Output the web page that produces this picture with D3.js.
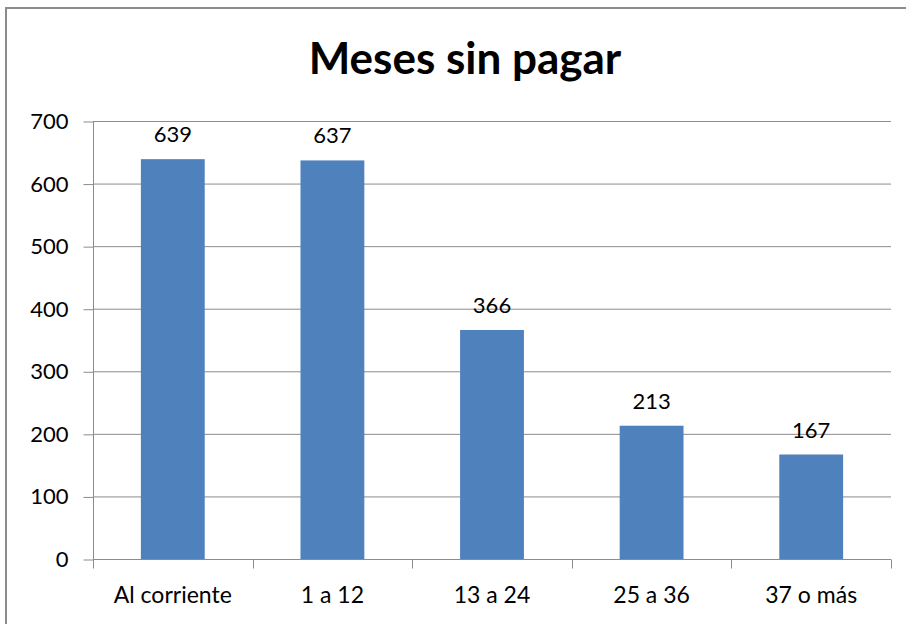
<!DOCTYPE html>
<html lang="es">
<head>
    <meta charset="UTF-8">
    <title>Meses sin pagar</title>
    <script src="https://d3js.org/d3.v7.min.js"></script>
    <style>
        body { margin: 0; background: #fff; }
        svg text { font-family: Lato, "Noto Sans", sans-serif; fill: #000; }
    </style>
</head>
<body>
    <div class="chart"></div>

    <script>
        const categories = ['Al corriente', '1 a 12', '13 a 24', '25 a 36', '37 o más'];
        const values = [639, 637, 366, 213, 167];
        const yTicks = [0, 100, 200, 300, 400, 500, 600, 700];

        const svgWidth = 906;
        const svgHeight = 624;
        const plot = { left: 93, right: 891, top: 121, bottom: 559 };

        const svg = d3.select('.chart')
            .append('svg')
            .attr('width', svgWidth)
            .attr('height', svgHeight);

        // outer chart frame (runs off the right and bottom edges)
        svg.append('rect')
            .attr('x', 6).attr('y', 8)
            .attr('width', 920).attr('height', 640)
            .attr('fill', 'none')
            .attr('stroke', '#8c8c8c')
            .attr('stroke-width', 2);

        svg.append('text')
            .attr('x', 465).attr('y', 74)
            .attr('text-anchor', 'middle')
            .style('font-size', '44px')
            .style('font-weight', 'bold')
            .text('Meses sin pagar');

        const x = d3.scaleBand()
            .domain(categories)
            .range([plot.left, plot.right])
            .paddingInner(0.6)
            .paddingOuter(0.3);

        const y = d3.scaleLinear()
            .domain([0, 700])
            .range([plot.bottom, plot.top]);

        // gridlines
        svg.append('g')
            .selectAll('line')
            .data(yTicks.slice(1))
            .enter()
            .append('line')
            .attr('x1', plot.left).attr('x2', plot.right)
            .attr('y1', d => y(d) + 0.5).attr('y2', d => y(d) + 0.5)
            .attr('stroke', '#8c8c8c');

        // y axis
        const yAxis = svg.append('g')
            .attr('transform', `translate(${plot.left + 0.5},0.5)`)
            .call(d3.axisLeft(y).tickValues(yTicks).tickSize(10).tickPadding(15));
        yAxis.select('.domain').attr('stroke', '#8c8c8c').attr('d', `M0,${plot.top}V${plot.bottom}`);
        yAxis.selectAll('.tick line').attr('stroke', '#8c8c8c');
        yAxis.selectAll('.tick text').style('font-size', '22px').attr('fill', '#000');

        // x axis with ticks on category boundaries
        const xAxis = svg.append('g')
            .attr('transform', `translate(0,${plot.bottom + 0.5})`);
        xAxis.append('line')
            .attr('x1', plot.left).attr('x2', plot.right)
            .attr('stroke', '#8c8c8c');
        const bounds = d3.range(categories.length + 1).map(i => plot.left + i * (plot.right - plot.left) / categories.length);
        xAxis.selectAll('.bt')
            .data(bounds)
            .enter()
            .append('line')
            .attr('x1', d => Math.round(d) + 0.5).attr('x2', d => Math.round(d) + 0.5)
            .attr('y1', 0).attr('y2', 9)
            .attr('stroke', '#8c8c8c');
        xAxis.selectAll('.lbl')
            .data(categories)
            .enter()
            .append('text')
            .attr('x', d => x(d) + x.bandwidth() / 2)
            .attr('y', 43)
            .attr('text-anchor', 'middle')
            .style('font-size', '23px')
            .text(d => d);

        // bars
        svg.selectAll('.bar')
            .data(values)
            .enter()
            .append('rect')
            .attr('class', 'bar')
            .attr('x', (d, i) => x(categories[i]))
            .attr('y', d => y(d))
            .attr('width', x.bandwidth())
            .attr('height', d => y(0) - y(d))
            .attr('fill', '#4f81bd');

        svg.selectAll('.val')
            .data(values)
            .enter()
            .append('text')
            .attr('x', (d, i) => x(categories[i]) + x.bandwidth() / 2)
            .attr('y', d => y(d) - 17)
            .attr('text-anchor', 'middle')
            .style('font-size', '22px')
            .text(d => d);
    </script>
</body>
</html>
